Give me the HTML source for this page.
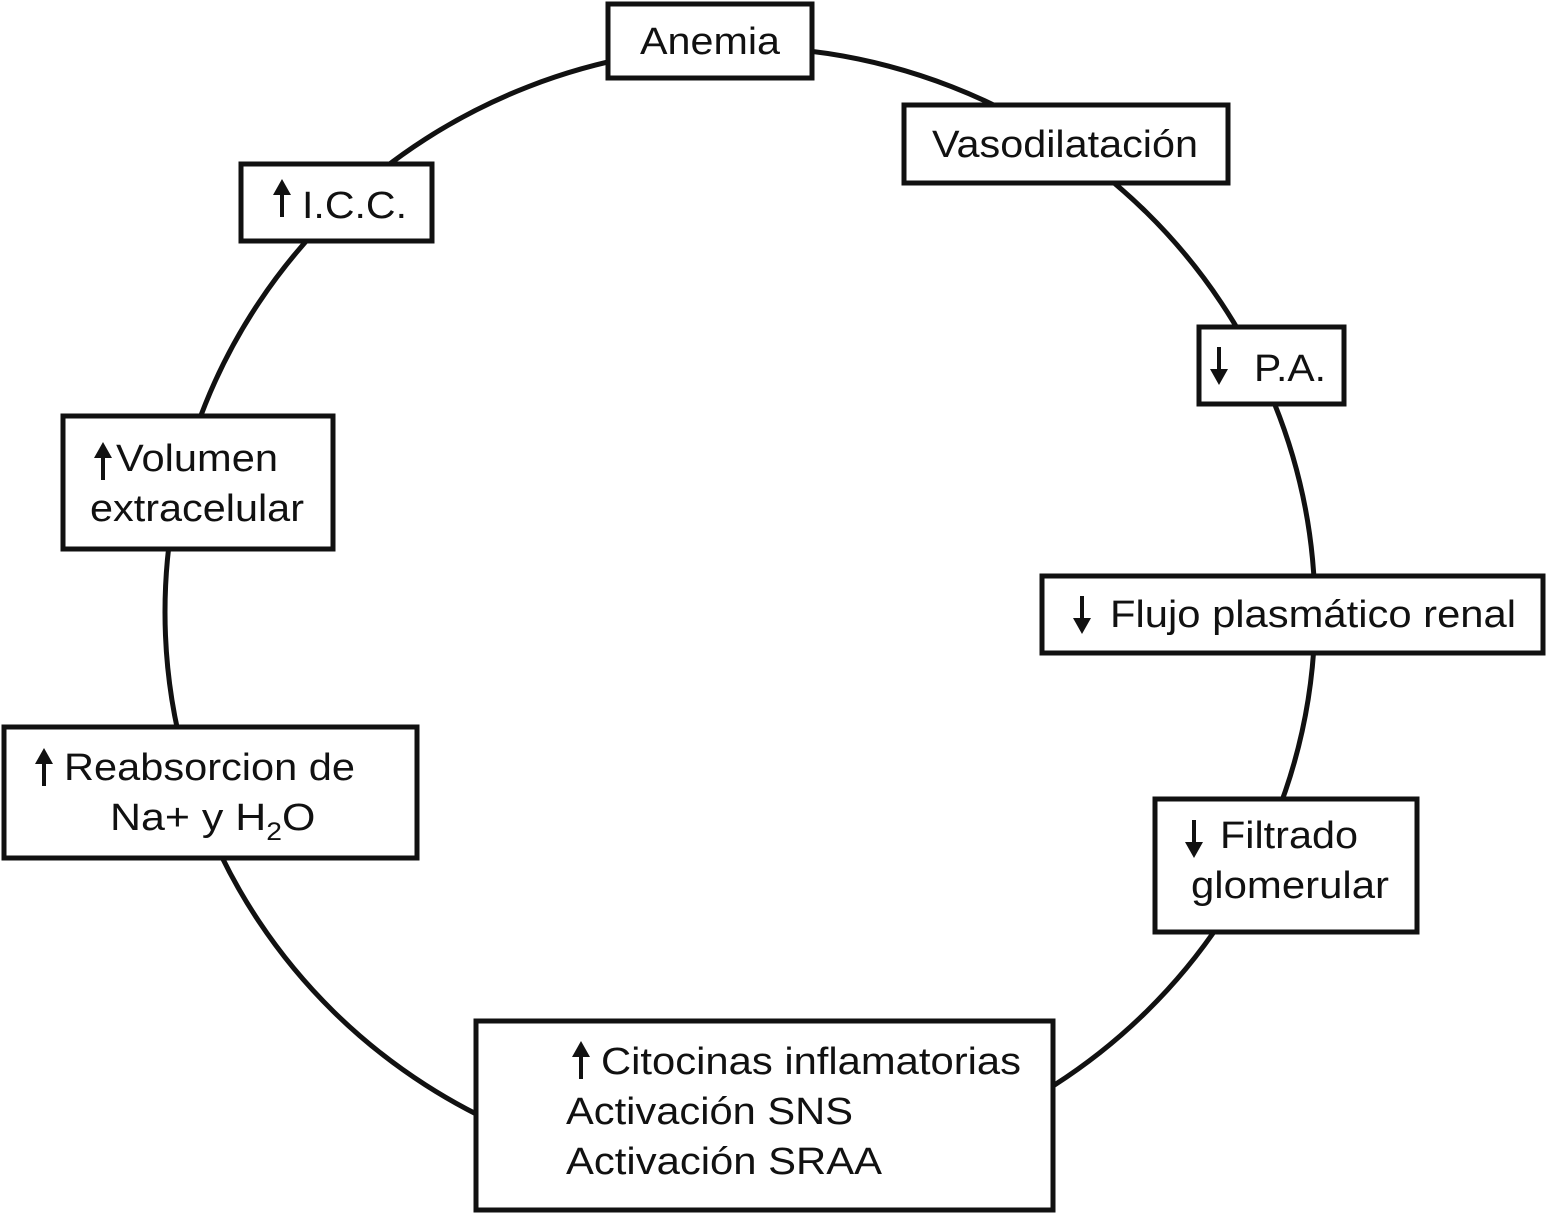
<!DOCTYPE html>
<html><head><meta charset="utf-8"><style>
html,body{margin:0;padding:0;background:#fff;}
svg{display:block;}
text{font-family:"Liberation Sans",Arial,sans-serif;font-size:38px;fill:#111;}
</style></head><body>
<svg width="1546" height="1213" viewBox="0 0 1546 1213" xmlns="http://www.w3.org/2000/svg">
<defs>
<g id="up"><line x1="0" y1="34" x2="0" y2="8" stroke="#111" stroke-width="4"/><polygon points="-9,12 9,12 0,-4" fill="#111"/></g>
<g id="dn"><line x1="0" y1="0" x2="0" y2="26" stroke="#111" stroke-width="4"/><polygon points="-9,22 9,22 0,38" fill="#111"/></g>
</defs>
<ellipse cx="740" cy="612" rx="575" ry="565" fill="none" stroke="#111" stroke-width="5"/>
<g fill="#fff" stroke="#111" stroke-width="5">
<rect x="608" y="4" width="204" height="74"/>
<rect x="904" y="105" width="324" height="78"/>
<rect x="241" y="164" width="191" height="77"/>
<rect x="1199" y="327" width="145" height="77"/>
<rect x="63" y="416" width="270" height="133"/>
<rect x="1042" y="576" width="501" height="77"/>
<rect x="4" y="727" width="413" height="131"/>
<rect x="1155" y="799" width="262" height="133"/>
<rect x="476" y="1021" width="577" height="189"/>
</g>
<text x="640" y="54" textLength="140" lengthAdjust="spacingAndGlyphs">Anemia</text>
<text x="932" y="157" textLength="266" lengthAdjust="spacingAndGlyphs">Vasodilatación</text>
<use href="#up" x="282" y="183"/><text x="302" y="218" textLength="105" lengthAdjust="spacingAndGlyphs">I.C.C.</text>
<use href="#dn" x="1219" y="347"/><text x="1254" y="381" textLength="72" lengthAdjust="spacingAndGlyphs">P.A.</text>
<use href="#up" x="103" y="446"/><text x="116" y="471" textLength="162" lengthAdjust="spacingAndGlyphs">Volumen</text>
<text x="90" y="521" textLength="214" lengthAdjust="spacingAndGlyphs">extracelular</text>
<use href="#dn" x="1082" y="596"/><text x="1110" y="627" textLength="406" lengthAdjust="spacingAndGlyphs">Flujo plasmático renal</text>
<use href="#up" x="44" y="752"/><text x="64" y="780" textLength="291" lengthAdjust="spacingAndGlyphs">Reabsorcion de</text>
<g transform="translate(110 0) scale(1.13 1) translate(-110 0)"><text x="110" y="830">Na+ y H<tspan font-size="25" dy="10">2</tspan><tspan dy="-10">O</tspan></text></g>
<use href="#dn" x="1194" y="820"/><text x="1220" y="848" textLength="138" lengthAdjust="spacingAndGlyphs">Filtrado</text>
<text x="1191" y="898" textLength="198" lengthAdjust="spacingAndGlyphs">glomerular</text>
<use href="#up" x="581" y="1045"/><text x="601" y="1074" textLength="420" lengthAdjust="spacingAndGlyphs">Citocinas inflamatorias</text>
<text x="566" y="1124" textLength="287" lengthAdjust="spacingAndGlyphs">Activación SNS</text>
<text x="566" y="1174" textLength="316" lengthAdjust="spacingAndGlyphs">Activación SRAA</text>
</svg>
</body></html>
